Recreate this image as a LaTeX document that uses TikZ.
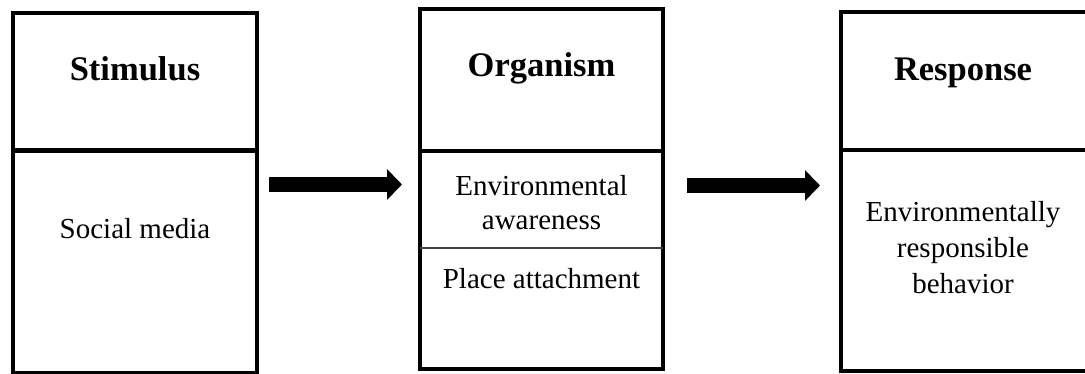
\documentclass[tikz,border=0pt]{standalone}
\usepackage{fontspec}
\setmainfont{Liberation Serif}
\usetikzlibrary{arrows.meta}

\tikzset{
  stagebox/.style={draw=black, line width=4.2pt, rectangle, inner sep=0pt, outer sep=0pt},
  divider/.style={black, line width=4.2pt},
  thinrule/.style={black!75, line width=1.5pt},
  heading/.style={font=\fontsize{34.5}{40}\selectfont\bfseries, inner sep=0pt, anchor=base},
  bodytext/.style={font=\fontsize{29}{34}\selectfont, inner sep=0pt, anchor=base, align=center},
  blockarrow/.style={line width=15.5pt, -{Triangle[length=15pt 0 0, width=30pt 0 0]}},
}

\begin{document}
\begin{tikzpicture}[x=1pt, y=-1pt]
  \useasboundingbox (0,0) rectangle (1085,374);
  \fill[white] (0,0) rectangle (1085,374);
  \clip (0,0) rectangle (1085,374);

  % the three stages of the S-O-R model
  \node[stagebox, minimum width=244pt, minimum height=360pt] (s) at (135,193) {};
  \node[stagebox, minimum width=243pt, minimum height=360pt] (o) at (541.5,189) {};
  \node[stagebox, minimum width=247pt, minimum height=359pt] (r) at (964.5,191.5) {};

  % header separators
  \draw[divider] ([yshift=-137.5pt]s.north west) -- ([yshift=-137.5pt]s.north east);
  \draw[divider] ([yshift=-142pt]o.north west) -- ([yshift=-142pt]o.north east);
  \draw[divider] ([yshift=-138pt]r.north west) -- ([yshift=-138pt]r.north east);
  % rule between the two organism factors
  \draw[thinrule] ([yshift=-239pt]o.north west) -- ([yshift=-239pt]o.north east);

  % headings
  \node[heading] (sh) at (135,81) {Stimulus};
  \node[heading] (oh) at (541.5,77) {Organism};
  \node[heading] (rh) at (963,81) {Response};

  % contents (multi-line nodes sit on the baseline of their last line)
  \node[bodytext] (st) at (135,239) {Social media};
  \node[bodytext] (ot1) at (541.5,230) {Environmental\\awareness};
  \node[bodytext] (ot2) at (541.5,288) {Place attachment};
  \node[bodytext, font=\fontsize{29}{36}\selectfont] (rt) at (963,294)
    {Environmentally\\responsible\\behavior};

  % flow arrows
  \draw[blockarrow] ([xshift=12pt, yshift=8.5pt]s.east) -- ([xshift=-18pt, yshift=4.5pt]o.west);
  \draw[blockarrow] ([xshift=24pt, yshift=3.5pt]o.east) -- ([xshift=-21pt, yshift=6pt]r.west);
\end{tikzpicture}
\end{document}
